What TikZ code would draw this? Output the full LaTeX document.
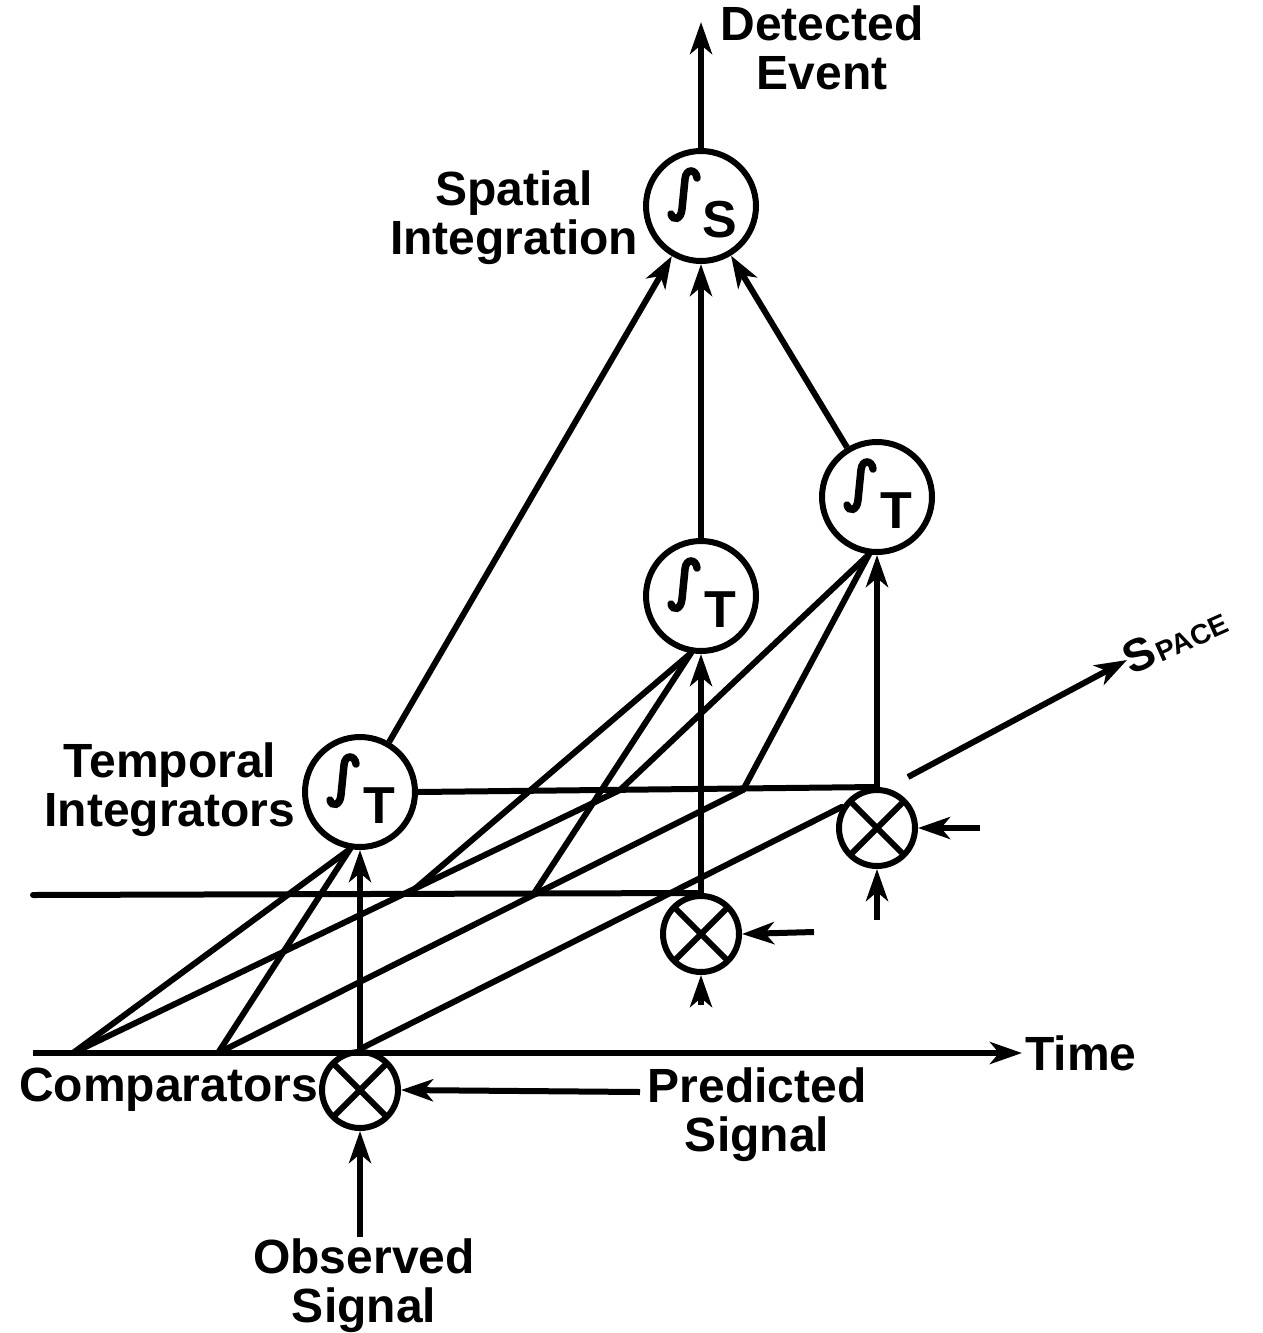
\documentclass[tikz,border=0pt]{standalone}
\usepackage{fontspec}
\setmainfont{Liberation Sans}
\usetikzlibrary{arrows.meta}
\tikzset{
  ln/.style={line width=6pt, line cap=round},
  xl/.style={line width=6pt},
  bigc/.style={circle, draw, line width=6pt, minimum size=110pt, inner sep=0pt},
  cmp/.style={circle, draw, line width=6pt, minimum size=76pt, inner sep=0pt},
  arr/.style={line width=6pt, -{Stealth[length=32pt,width=22pt,inset=9pt]}},
  lbl/.style={font=\fontsize{48}{49}\selectfont\bfseries, align=center, inner sep=0pt},
  sym/.style={font=\fontsize{52}{52}\selectfont\bfseries, inner sep=0pt},
}
\newcommand{\integ}[2]{%
  \begin{scope}[shift={(#1.center)}]
    \draw[line width=7.5pt, line cap=round] (-4,-28) .. controls (-5,-37) and (-15,-38) .. (-16,-27)
      -- (-19,3) .. controls (-20,14) and (-28,15) .. (-30,8);
    \node[sym] at (19,14) {#2};
  \end{scope}}
\newcommand{\cross}[1]{%
  \draw[xl] ([shift={(-25,-25)}]#1.center) -- ([shift={(25,25)}]#1.center);
  \draw[xl] ([shift={(25,-25)}]#1.center) -- ([shift={(-25,25)}]#1.center);}
\begin{document}
\begin{tikzpicture}[x=1pt,y=-1pt]
\useasboundingbox (0,0) rectangle (1262,1333);
% integrators
\node[bigc] (S) at (701,206) {};
\node[bigc] (T1) at (360,792) {};
\node[bigc] (T2) at (701,596) {};
\node[bigc] (T3) at (877,497) {};
\integ{S}{S}
\integ{T1}{T}
\integ{T2}{T}
\integ{T3}{T}
% comparators
\node[cmp] (C1) at (360,1090) {};
\node[cmp] (C2) at (701,934) {};
\node[cmp] (C3) at (877,828) {};
\cross{C1}
\cross{C2}
\cross{C3}
% axes points
\coordinate (tl) at (33,1053);
\coordinate (tr) at (1022,1053);
\coordinate (ml) at (33,895);
\coordinate (A1) at (73,1053);
\coordinate (A2) at (218,1053);
\coordinate (B1) at (410,893);
\coordinate (B2) at (533,895);
\coordinate (D1) at (620,790);
\coordinate (D2) at (743,790);
% time axes
\draw[arr] (tl) -- (tr);
\draw[ln] (ml) -- (C2.north);
\draw[ln] (T1.east) -- (C3.north);
% space lines
\draw[ln] (A1) -- (D1);
\draw[ln] (A2) -- (D2);
\draw[ln] (C1.north) -- (C3.149);
% temporal integration lines
\draw[ln] (A1) -- (T1.260);
\draw[ln] (A2) -- (T1.260);
\draw[ln] (B1) -- (T2.260);
\draw[ln] (B2) -- (T2.260);
\draw[ln] (D1) -- (T3.262);
\draw[ln] (D2) -- (T3.262);
% vertical arrows
\draw[arr] (C1.north) -- (T1.south);
\draw[arr] (C2.north) -- (T2.south);
\draw[arr] (C3.north) -- (T3.south);
\draw[arr] (T1) -- (S);
\draw[arr] (T2) -- (S);
\draw[arr] (T3) -- (S);
\coordinate (de) at (701,22);
\draw[arr] (S.north) -- (de);
% comparator inputs
\coordinate (ps) at (640,1092);
\coordinate (os) at (360,1237);
\draw[arr] (ps) -- (C1.east);
\draw[arr] (os) -- (C1.south);
\coordinate (m2r) at (814,932);
\coordinate (m2b) at (701,1005);
\draw[arr] (m2r) -- (C2.east);
\draw[arr] (m2b) -- (C2.south);
\coordinate (m3r) at (980,828);
\coordinate (m3b) at (877,920);
\draw[arr] (m3r) -- (C3.east);
\draw[arr] (m3b) -- (C3.south);
% space arrow
\coordinate (sp1) at (908,777);
\coordinate (sp2) at (1127,660);
\draw[arr] (sp1) -- (sp2);
\node[inner sep=0pt, anchor=south west, rotate=24, font=\bfseries] (spc) at (1132,676)
  {\fontsize{46}{46}\selectfont S\kern2pt\fontsize{28}{28}\selectfont PACE};
% labels
\node[lbl] (lde) at (822,48) {Detected\\Event};
\node[lbl] (lsi) at (514,218) {Spatial\\Integration};
\node[lbl] (lti) at (170,790) {Temporal\\Integrators};
\node[lbl, anchor=east] (lco) at (318,1090) {Comparators};
\node[lbl] (lps) at (757,1115) {Predicted\\Signal};
\node[lbl] (los) at (364,1286) {Observed\\Signal};
\node[lbl, anchor=west] (ltm) at (1025,1053) {Time};
\end{tikzpicture}
\end{document}
